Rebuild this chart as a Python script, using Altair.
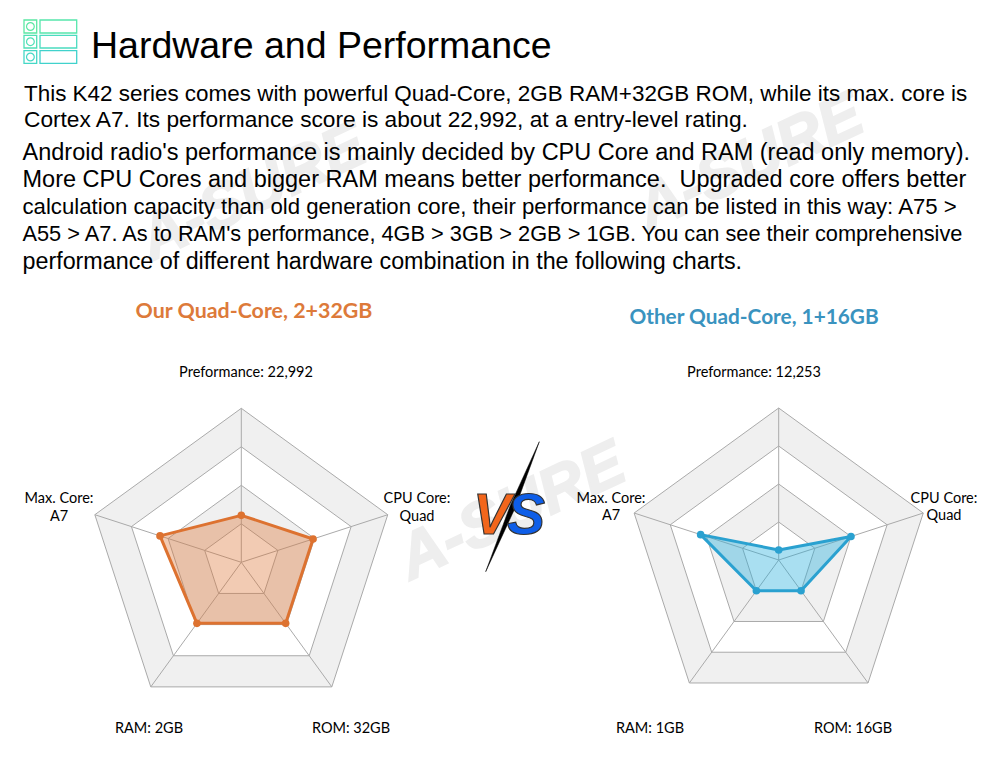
import math
import altair as alt
import pandas as pd

AXES = ["Preformance", "CPU Core", "ROM", "RAM", "Max. Core"]
OUR_SCORES = [0.305, 0.49, 0.49, 0.49, 0.555]
OTHER_SCORES = [0.066, 0.50, 0.25, 0.25, 0.54]
RINGS = [1.0, 0.75, 0.5, 0.25]
RING_FILLS = ["#f0f0f0", "#ffffff", "#f0f0f0", "#ffffff"]

TITLE = "Hardware and Performance"
BODY_LINES = [
    "This K42 series comes with powerful Quad-Core, 2GB RAM+32GB ROM, while its max. core is",
    "Cortex A7. Its performance score is about 22,992, at a entry-level rating.",
    "Android radio's performance is mainly decided by CPU Core and RAM (read only memory).",
    "More CPU Cores and bigger RAM means better performance.\u00a0 Upgraded core offers better",
    "calculation capacity than old generation core, their performance can be listed in this way: A75 >",
    "A55 > A7. As to RAM's performance, 4GB > 3GB > 2GB > 1GB. You can see their comprehensive",
    "performance of different hardware combination in the following charts.",
]
BODY_X = [24, 24, 22.5, 22.5, 22.5, 22.5, 22.5]
BODY_Y = [101, 127, 160, 187, 214, 241, 269]
BODY_SIZE = [22.45, 22.7, 23.5, 23.5, 22.2, 21.75, 23.3]

xs = alt.Scale(domain=[8, 992], nice=False, zero=False)
ys = alt.Scale(domain=[748, 8], nice=False, zero=False)
X = alt.X("x:Q", scale=xs, axis=None)
Y = alt.Y("y:Q", scale=ys, axis=None)


def vertex(cx, cy, radius, index):
    a = 2 * math.pi * index / 5
    return cx + radius * math.sin(a), cy - radius * math.cos(a)


def polygon(points, **style):
    df = pd.DataFrame([{"x": p[0], "y": p[1], "o": i} for i, p in enumerate(points)])
    return alt.Chart(df).mark_line(interpolate="linear-closed", **style).encode(
        x=X, y=Y, order=alt.Order("o:Q")
    )


def texts(rows, **style):
    df = pd.DataFrame(rows, columns=["x", "y", "t"])
    return alt.Chart(df).mark_text(**style).encode(x=X, y=Y, text="t:N")


def radar(cx, cy, radius, scores, line, fill, fill_opacity):
    layers = []
    for level, ring_fill in zip(RINGS, RING_FILLS):
        layers.append(polygon(
            [vertex(cx, cy, radius * level, i) for i in range(5)],
            fill=ring_fill, stroke="#aaaaaa", strokeWidth=1,
        ))
    spokes = pd.DataFrame([
        {"x": cx, "y": cy, "x2": vertex(cx, cy, radius, i)[0], "y2": vertex(cx, cy, radius, i)[1]}
        for i in range(5)
    ])
    layers.append(alt.Chart(spokes).mark_rule(color="#aaaaaa", strokeWidth=1).encode(
        x=X, y=Y, x2="x2:Q", y2="y2:Q"
    ))
    pts = [vertex(cx, cy, radius * s, i) for i, s in enumerate(scores)]
    layers.append(polygon(pts, fill=fill, fillOpacity=fill_opacity, stroke=line, strokeWidth=3,
                          strokeJoin="round"))
    layers.append(
        alt.Chart(pd.DataFrame(pts, columns=["x", "y"]))
        .mark_circle(size=58, color=line, opacity=1)
        .encode(x=X, y=Y)
    )
    return layers


layers = []

# watermarks
layers.append(texts(
    [(253, 193, "A-SURE"), (750, 163, "A-SURE"), (512, 512, "A-SURE")],
    font="Liberation Sans", fontSize=63, fontWeight="bold", fontStyle="italic",
    angle=335, color="#eeeeee", stroke="#eeeeee", strokeWidth=2,
    align="center", baseline="middle",
))

# header icon
rows = pd.DataFrame({
    "a": [24, 40, 24, 40, 24, 40],
    "b": [36.7, 76.7, 36.7, 76.7, 36.7, 76.7],
    "t": [20, 20, 35.3, 35.3, 50.7, 50.7],
    "u": [33, 33, 48, 48, 63.3, 63.3],
    "c": ["#5be8a4", "#57e6ac", "#4fe0b6", "#4bdcc0", "#45d8c6", "#40d2cc"],
})
layers.append(alt.Chart(rows).mark_rect(fillOpacity=0, strokeWidth=1.3).encode(
    x=alt.X("a:Q", scale=xs, axis=None), x2="b:Q",
    y=alt.Y("t:Q", scale=ys, axis=None), y2="u:Q",
    stroke=alt.Stroke("c:N", scale=None),
))
dots = pd.DataFrame({"x": [30.4, 30.4, 30.4], "y": [26.5, 41.7, 57], "c": ["#5be8a4", "#4fe0b6", "#45d8c6"]})
layers.append(alt.Chart(dots).mark_point(shape="circle", size=60, strokeWidth=1.2, filled=False, opacity=1).encode(
    x=X, y=Y, stroke=alt.Stroke("c:N", scale=None)
))

layers.append(texts([(91, 57.5, TITLE)], font="Liberation Sans", fontSize=37.5, color="#000000",
                    align="left", baseline="alphabetic"))

body = pd.DataFrame({"x": BODY_X, "y": BODY_Y, "t": BODY_LINES, "s": BODY_SIZE})
layers.append(alt.Chart(body).mark_text(font="Liberation Sans", color="#000000", align="left",
                                        baseline="alphabetic").encode(
    x=X, y=Y, text="t:N", size=alt.Size("s:Q", scale=None)
))

layers += radar(241.3, 562.3, 154, OUR_SCORES, "#dd7230", "#dd7230", 0.37)
layers += radar(778.7, 560, 152, OTHER_SCORES, "#2aa1d0", "#27b0dc", 0.4)

HEAD = dict(font="Lato", fontWeight="bold", align="center", baseline="alphabetic")
layers.append(texts([(254, 318, "Our Quad-Core, 2+32GB")], color="#dd7a3a", fontSize=21.4, **HEAD))
layers.append(texts([(754, 324, "Other Quad-Core, 1+16GB")], color="#3a93bf", fontSize=20.8, **HEAD))

LABEL = dict(font="Lato", fontSize=14.5, color="#000000", align="center", baseline="alphabetic")
layers.append(texts([
    (246, 377, "Preformance: 22,992"),
    (59, 503, "Max. Core:"), (59, 521, "A7"),
    (417, 503, "CPU Core:"), (417, 521, "Quad"),
    (149, 733, "RAM: 2GB"), (351, 733, "ROM: 32GB"),
    (754, 377, "Preformance: 12,253"),
    (611, 503, "Max. Core:"), (611, 520, "A7"),
    (944, 503, "CPU Core:"), (944, 520, "Quad"),
    (650, 733, "RAM: 1GB"), (853, 733, "ROM: 16GB"),
], **LABEL))

# VS emblem
layers.append(polygon(
    [(539.3, 441.7), (515.2, 507.7), (485.7, 571.7), (510.2, 505.7)],
    fill="#000000", stroke="#000000", strokeWidth=0.5,
))
VS = dict(font="Liberation Sans", fontWeight="bold", fontStyle="italic", fontSize=57,
          stroke="#333333", strokeWidth=1.2, align="center", baseline="alphabetic")
layers.append(texts([(492, 534, "V")], color="#f2661c", **VS))
layers.append(texts([(526, 534, "S")], color="#0e5ee8", **VS))

chart = alt.layer(*layers).properties(
    width=984, height=740, padding=0, autosize=alt.AutoSizeParams(type="none")
).configure_view(stroke=None)

chart.save("out.html", embed_options={"renderer": "svg", "actions": False})
